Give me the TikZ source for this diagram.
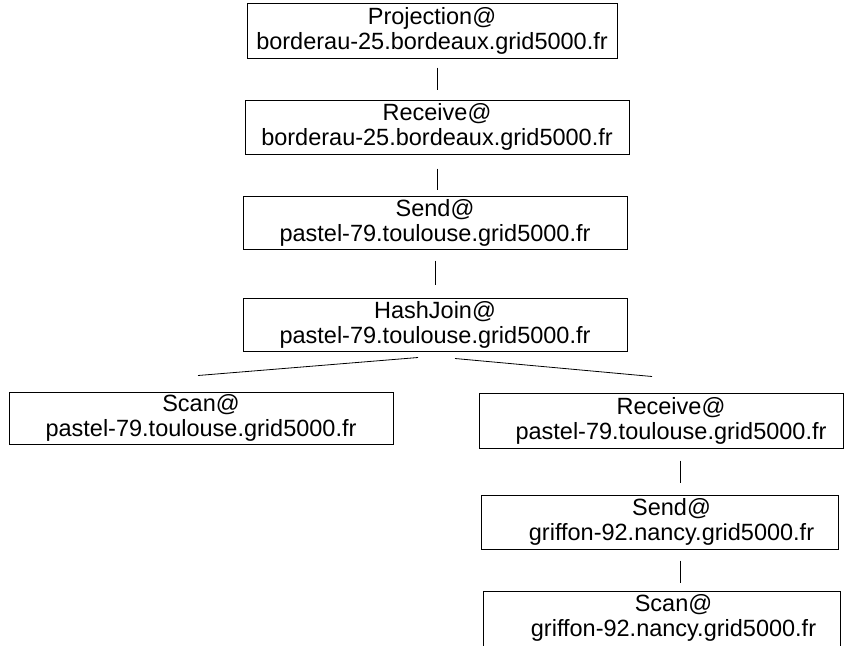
\documentclass[tikz,border=0pt]{standalone}
\usepackage{fontspec}
\setmainfont{Liberation Sans}
\usepackage{tikz}
\usetikzlibrary{calc}

\tikzset{
  optext/.style={align=center,inner sep=0pt,font=\fontsize{23.5}{25}\selectfont},
  opbox/.style={optext,draw=black,line width=1pt,minimum height=54pt},
  edge/.style={draw=black,line width=0.8pt}
}

\begin{document}
\begin{tikzpicture}[x=1pt,y=-1pt]
\useasboundingbox (0,0) rectangle (853,645);
% operator boxes:
\node[opbox,minimum width=370pt,minimum height=55pt] (proj) at (432,30.5)
  {Projection@\\borderau-25.bordeaux.grid5000.fr};
\node[opbox,minimum width=384pt] (recv) at (437,127)
  {Receive@\\borderau-25.bordeaux.grid5000.fr};
\node[opbox,minimum width=384pt,minimum height=53pt] (send) at (435,222.5)
  {Send@\\pastel-79.toulouse.grid5000.fr};
\node[opbox,minimum width=384pt,minimum height=53pt] (hjoin) at (435,324.5)
  {HashJoin@\\pastel-79.toulouse.grid5000.fr};
\node[opbox,minimum width=384pt,minimum height=52pt] (scanl) at (201,418)
  {Scan@\\pastel-79.toulouse.grid5000.fr};
% right branch, text sits a little right of the box centre
\node[opbox,minimum width=364pt,minimum height=55pt,
  label={[optext,xshift=10pt]center:{Receive@\\pastel-79.toulouse.grid5000.fr}}]
  (recvr) at (661,420.5) {};
\node[opbox,minimum width=357pt,
  label={[optext,xshift=12pt]center:{Send@\\griffon-92.nancy.grid5000.fr}}]
  (sendr) at (659.5,522) {};
\node[opbox,minimum width=357pt,minimum height=60pt,
  label={[optext,xshift=12pt,yshift=3pt]center:{Scan@\\griffon-92.nancy.grid5000.fr}}]
  (scanr) at (661.5,621) {};
% links:
\draw[edge,shorten <=9pt,shorten >=10pt] (recv.north |- proj.south) -- (recv.north);
\draw[edge,shorten <=14pt,shorten >=6pt] (recv.south) -- (send.north -| recv.south);
\draw[edge,shorten <=11pt,shorten >=13pt] (send.south) -- (hjoin.north -| send.south);
\draw[edge] ($(hjoin.south)+(-17,6)$) -- ($(scanl.north)+(-3,-16)$);
\draw[edge] ($(hjoin.south)+(20,7)$) -- ($(recvr.north)+(-9,-16)$);
\draw[edge,shorten <=12pt,shorten >=12pt] ($(recvr.south)+(19,0)$) -- ($(sendr.north)+(20.5,0)$);
\draw[edge,shorten <=11pt,shorten >=8pt] ($(sendr.south)+(20.5,0)$) -- ($(scanr.north)+(18.5,0)$);
\end{tikzpicture}
\end{document}
